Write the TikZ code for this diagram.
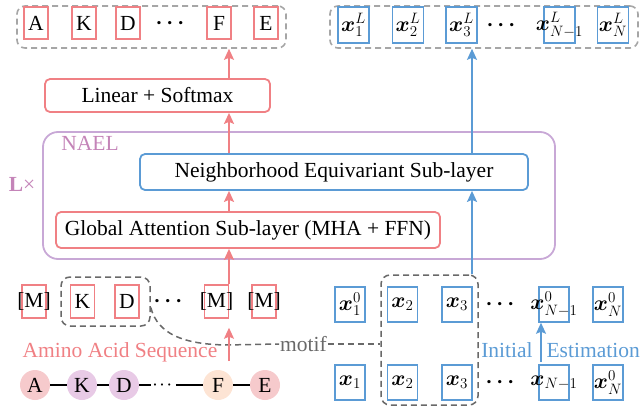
\RequirePackage{fix-cm}
\documentclass[tikz,border=0pt]{standalone}
\usepackage{amsmath}
\usepackage{bm}
\usepackage{fontspec}
\setmainfont{Liberation Serif}
\usetikzlibrary{arrows.meta}
\definecolor{cred}{RGB}{240,128,132}
\definecolor{cblue}{RGB}{91,155,213}
\definecolor{cpurp}{RGB}{200,168,214}
\definecolor{cnael}{RGB}{196,132,184}
\definecolor{cgrayl}{RGB}{166,166,166}
\definecolor{cgrayd}{RGB}{105,105,105}
\definecolor{cpinkf}{RGB}{246,202,204}
\definecolor{clavf}{RGB}{232,202,230}
\definecolor{cpeachf}{RGB}{253,228,212}
\begin{document}
\begin{tikzpicture}[x=1pt,y=-1pt,font=\fontsize{21.5}{26}\selectfont,
  rbox/.style={draw=cred,line width=1.5pt,minimum width=24pt,minimum height=32pt,inner sep=0pt},
  bbox/.style={draw=cblue,line width=1.5pt,minimum width=31pt,minimum height=36pt,inner sep=0pt},
  layerR/.style={draw=cred,line width=1.8pt,rounded corners=5pt,inner sep=0pt},
  layerB/.style={draw=cblue,line width=1.8pt,rounded corners=5pt,inner sep=0pt},
  dgroup/.style={draw=cgrayl,dash pattern=on 6pt off 4pt,line width=1.6pt,rounded corners=8pt,inner sep=0pt},
  motifd/.style={draw=cgrayd,line width=1.5pt,dash pattern=on 6pt off 4pt},
  mgroup/.style={motifd,rounded corners=9pt,inner sep=0pt},
  rarrow/.style={draw=cred,line width=1.6pt,-{Stealth[length=11pt,width=10pt,inset=2pt]}},
  barrow/.style={draw=cblue,line width=1.6pt,-{Stealth[length=11pt,width=10pt,inset=2pt]}},
  res/.style={circle,minimum size=30pt,inner sep=0pt},
  dotsn/.style={inner sep=0pt}]
\useasboundingbox (0,0) rectangle (643,407);

% ---- top outputs
\node[dgroup,minimum width=269pt,minimum height=42pt] (outL) at (151.5,27) {};
\node[rbox] (oA) at (36,23) {A};
\node[rbox] (oK) at (84,23) {K};
\node[rbox] (oD) at (128,23) {D};
\node[dotsn] (oDots) at (172,23) {$\boldsymbol{\cdots}$};
\node[rbox] (oF) at (219,23) {F};
\node[rbox] (oE) at (266,23) {E};

\node[dgroup,minimum width=308pt,minimum height=42pt] (outR) at (484,27) {};
\node[bbox] (oX1) at (353.5,25) {\makebox[0pt]{$\bm{x}_1^L$}};
\node[bbox] (oX2) at (408,25) {\makebox[0pt]{$\bm{x}_2^L$}};
\node[bbox] (oX3) at (461.5,25) {\makebox[0pt]{$\bm{x}_3^L$}};
\node[dotsn] (oXd) at (503,25) {$\boldsymbol{\cdots}$};
\node[bbox] (oXn1) at (559.5,25) {\makebox[0pt]{$\bm{x}_{N-1}^L$}};
\node[bbox] (oXn) at (613,25) {\makebox[0pt]{$\bm{x}_N^L$}};

% ---- layers
\node[layerR,minimum width=225pt,minimum height=33pt] (lin) at (157.5,95.5) {Linear + Softmax};
\node[draw=cpurp,line width=1.8pt,rounded corners=15pt,minimum width=512pt,minimum height=127pt] (nael) at (299,195.5) {};
\node[text=cnael] (naelL) at (90,143) {NAEL};
\node[text=cnael] (lx) at (22,184) {\textbf{L}×};
\node[layerB,minimum width=388pt,minimum height=36pt] (neigh) at (334,172) {Neighborhood Equivariant Sub-layer};
\node[layerR,minimum width=384pt,minimum height=36pt] (glob) at (248,230) {Global Attention Sub-layer (MHA + FFN)};

% ---- masked sequence
\node[rbox,minimum height=33pt] (m1) at (34,301.5) {\makebox[0pt]{[M]}};
\node[rbox,minimum height=33pt] (mK) at (82.5,301.5) {K};
\node[rbox,minimum height=33pt] (mD) at (127,301.5) {D};
\node[dotsn] (mDots) at (170,301.5) {$\boldsymbol{\cdots}$};
\node[rbox,minimum height=33pt] (m4) at (216.5,301.5) {\makebox[0pt]{[M]}};
\node[rbox,minimum height=33pt] (m5) at (264,301.5) {\makebox[0pt]{[M]}};
\node[mgroup,minimum width=89pt,minimum height=49pt] (motifL) at (105.5,301.5) {};

% ---- coordinates rows
\node[bbox,minimum width=30pt,minimum height=35pt] (a1) at (350,304.5) {\makebox[0pt]{$\bm{x}_1^0$}};
\node[bbox,minimum width=30pt,minimum height=35pt] (a2) at (402.5,304.5) {\makebox[0pt]{$\bm{x}_2$}};
\node[bbox,minimum width=30pt,minimum height=35pt] (a3) at (457,304.5) {\makebox[0pt]{$\bm{x}_3$}};
\node[dotsn] (aDots) at (502,304.5) {$\boldsymbol{\cdots}$};
\node[bbox,minimum width=30pt,minimum height=35pt] (an1) at (554,304.5) {\makebox[0pt]{$\bm{x}_{N-1}^0$}};
\node[bbox,minimum width=30pt,minimum height=35pt] (an) at (608,304.5) {\makebox[0pt]{$\bm{x}_N^0$}};

\node[bbox,minimum width=30pt,minimum height=35pt] (b1) at (350,382.5) {\makebox[0pt]{$\bm{x}_1$}};
\node[bbox,minimum width=30pt,minimum height=35pt] (b2) at (402.5,382.5) {\makebox[0pt]{$\bm{x}_2$}};
\node[bbox,minimum width=30pt,minimum height=35pt] (b3) at (457,382.5) {\makebox[0pt]{$\bm{x}_3$}};
\node[dotsn] (bDots) at (502,382.5) {$\boldsymbol{\cdots}$};
\node[bbox,minimum width=30pt,minimum height=35pt] (bn1) at (554,382.5) {\makebox[0pt]{$\bm{x}_{N-1}$}};
\node[bbox,minimum width=30pt,minimum height=35pt] (bn) at (608,382.5) {\makebox[0pt]{$\bm{x}_N^0$}};

\node[mgroup,minimum width=97pt,minimum height=130pt] (motifR) at (429.5,340) {};

% ---- labels
\node[text=cred] (aas) at (120,352) {Amino Acid Sequence};
\node[text=cgrayd,inner sep=1pt] (motif) at (303.5,344) {motif};
\node[text=cblue] (init) at (560.5,350) {Initial\hspace{14pt}Estimation};

% ---- chain
\node[res,fill=cpinkf] (cA) at (35,385) {A};
\node[res,fill=clavf] (cK) at (82,385) {K};
\node[res,fill=clavf] (cD) at (124,385) {D};
\node[dotsn] (cDots) at (163.5,385) {\fontsize{14}{14}\selectfont$\boldsymbol{\cdots}$};
\node[res,fill=cpeachf] (cF) at (218,385) {F};
\node[res,fill=cpinkf] (cE) at (265,385) {E};
\draw[line width=1.5pt] (cA) -- (cK);
\draw[line width=1.5pt] (cK) -- (cD);
\draw[line width=1.5pt] (cD) -- ([xshift=-1.5pt]cDots.west);
\draw[line width=1.5pt] ([xshift=1.5pt]cDots.east) -- (cF);
\draw[line width=1.5pt] (cF) -- (cE);

% ---- motif link
\draw[motifd] ([yshift=-6pt]motifL.east) .. controls (158,335) and (185,344) .. (225,345) -- (motif.west);
\draw[motifd] (motif.east) -- (motif.east -| motifR.west);

% ---- arrows
\coordinate (rx) at (229,0);
\coordinate (bx) at (472,0);
\coordinate (aasTop) at (229,361);
\coordinate (ie) at (541,362);
\draw[rarrow] (aasTop) -- ([yshift=-9pt]m4.south -| rx);
\draw[rarrow] (m4.north -| rx) -- (glob.south -| rx);
\draw[rarrow] (glob.north -| rx) -- (neigh.south -| rx);
\draw[rarrow] (neigh.north -| rx) -- (lin.south -| rx);
\draw[rarrow] (lin.north -| rx) -- (outL.south -| rx);
\draw[barrow] (motifR.north -| bx) -- (neigh.south -| bx);
\draw[barrow] (neigh.north -| bx) -- (outR.south -| bx);
\draw[barrow] (ie) -- (an1.south -| ie);
\end{tikzpicture}
\end{document}
